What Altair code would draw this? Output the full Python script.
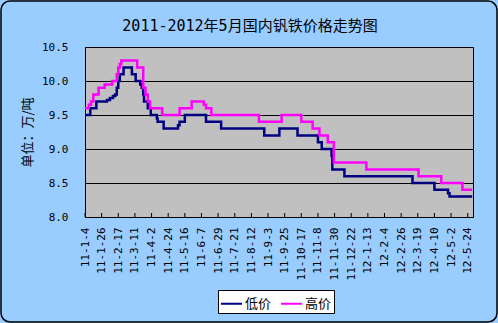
import json
import altair as alt
import pandas as pd

# ---------------- data ----------------
low_dates = ["2011-01-04", "2011-01-11", "2011-01-19", "2011-02-02", "2011-02-06",
             "2011-02-10", "2011-02-13", "2011-02-15", "2011-02-17", "2011-02-19",
             "2011-02-24", "2011-03-07", "2011-03-12", "2011-03-18", "2011-03-20",
             "2011-03-22", "2011-03-23", "2011-03-28", "2011-04-01", "2011-04-09",
             "2011-04-10", "2011-04-18", "2011-05-07", "2011-05-09", "2011-05-16",
             "2011-06-13", "2011-07-03", "2011-08-29", "2011-09-18", "2011-10-12",
             "2011-11-08", "2011-11-13", "2011-11-26", "2011-11-27", "2011-12-13",
             "2012-03-12", "2012-04-10", "2012-04-28", "2012-04-30", "2012-05-30"]
low_values = [9.5, 9.6, 9.7, 9.72, 9.75,
              9.78, 9.8, 9.9, 10.0, 10.1,
              10.2, 10.1, 10.0, 9.95, 9.9,
              9.8, 9.7, 9.6, 9.5, 9.45,
              9.4, 9.3, 9.35, 9.4, 9.5,
              9.4, 9.3, 9.2, 9.3, 9.2,
              9.1, 9.0, 8.9, 8.7, 8.6,
              8.5, 8.4, 8.35, 8.3, 8.3]

high_dates = ["2011-01-04", "2011-01-09", "2011-01-12", "2011-01-15", "2011-01-22",
              "2011-01-30", "2011-02-09", "2011-02-15", "2011-02-17", "2011-02-19",
              "2011-02-21", "2011-03-14", "2011-03-22", "2011-03-25", "2011-03-28",
              "2011-03-31", "2011-04-16", "2011-05-09", "2011-05-25", "2011-06-10",
              "2011-06-13", "2011-06-20", "2011-08-22", "2011-09-21", "2011-10-17",
              "2011-11-01", "2011-11-10", "2011-11-21", "2011-11-29", "2012-01-11",
              "2012-03-20", "2012-04-19", "2012-05-17", "2012-05-30"]
high_values = [9.6, 9.65, 9.7, 9.8, 9.9,
               9.95, 10.0, 10.1, 10.2, 10.25,
               10.3, 10.2, 9.9, 9.8, 9.7,
               9.6, 9.5, 9.6, 9.7, 9.65,
               9.6, 9.5, 9.4, 9.5, 9.4,
               9.3, 9.2, 9.1, 8.8, 8.7,
               8.6, 8.5, 8.4, 8.4]

series_names = ["低价", "高价"]
series_colors = ["#000080", "#FF00FF"]

tick_labels = ["11-1-4", "11-1-26", "11-2-17", "11-3-11", "11-4-2", "11-4-24",
               "11-5-16", "11-6-7", "11-6-29", "11-7-21", "11-8-12", "11-9-3",
               "11-9-25", "11-10-17", "11-11-8", "11-11-30", "11-12-22", "12-1-13",
               "12-2-4", "12-2-26", "12-3-19", "12-4-10", "12-5-2", "12-5-24"]
y_ticks = [8.0, 8.5, 9.0, 9.5, 10.0, 10.5]

title_text = "2011-2012年5月国内钒铁价格走势图"
y_title = "单位：万/吨"

# ---------------- build tables ----------------
origin = pd.Timestamp("2011-01-04")


def day_of(s):
    return int((pd.Timestamp(s) - origin).days)


def tick_day(lbl):
    y, m, d = lbl.split("-")
    return day_of(f"20{y}-{int(m):02d}-{int(d):02d}")


rows = []
for d, v in zip(low_dates, low_values):
    rows.append({"day": day_of(d), "price": v, "series": series_names[0]})
for d, v in zip(high_dates, high_values):
    rows.append({"day": day_of(d), "price": v, "series": series_names[1]})
df = pd.DataFrame(rows)

tick_days = [tick_day(t) for t in tick_labels]
ticks_df = pd.DataFrame({"day": tick_days})

W, H = 388, 170
x_domain = [0, 513]

label_expr = "%s[indexof(%s, datum.value)]" % (json.dumps(tick_labels), json.dumps(tick_days))

mono = "DejaVu Sans Mono"
cjk = "Noto Sans CJK SC"

x_enc = alt.X(
    "day:Q",
    scale=alt.Scale(domain=x_domain, nice=False, zero=False),
    axis=alt.Axis(
        values=tick_days, labelExpr=label_expr, labelAngle=-90,
        labelFont=mono, labelFontSize=11, labelColor="black",
        labelPadding=10, ticks=False, domain=False, grid=False,
        labelOverlap=False, labelFlush=False, labelBound=False, title=None,
    ),
)

lines = alt.Chart(df).mark_line(interpolate="step-after", strokeWidth=2.5).encode(
    x=x_enc,
    y=alt.Y(
        "price:Q",
        scale=alt.Scale(domain=[8.0, 10.5], nice=False, zero=False),
        axis=alt.Axis(
            values=y_ticks, format=".1f", labelFont=mono, labelFontSize=11,
            labelColor="black", labelPadding=17, ticks=False, domain=False,
            grid=True, gridColor="black", gridWidth=1, gridOpacity=1,
            title=y_title, titleFont=cjk, titleFontSize=13, titleFontWeight="normal",
            titleColor="black", titlePadding=7,
        ),
    ),
    color=alt.Color(
        "series:N",
        scale=alt.Scale(domain=series_names, range=series_colors),
        legend=alt.Legend(
            title=None, orient="none", legendX=133, legendY=243, direction="horizontal",
            symbolType="stroke", symbolSize=441, symbolStrokeWidth=2,
            labelFont=cjk, labelFontSize=13, labelColor="black", labelOffset=2,
            columnPadding=5, padding=2, fillColor="white", strokeColor="black",
        ),
    ),
)

inner_ticks = alt.Chart(ticks_df).mark_rule(color="black", strokeWidth=1).encode(
    x=x_enc,
    y=alt.value(H - 4),
    y2=alt.value(H),
)

frame = alt.Chart(alt.Data(values=[{"k": 1}])).mark_rect(
    fillOpacity=0, stroke="black", strokeWidth=1.5, cornerRadius=9
).encode(
    x=alt.value(-84), y=alt.value(-46), x2=alt.value(W + 24), y2=alt.value(H + 105)
)

chart = alt.layer(lines, inner_ticks, frame).properties(
    width=W, height=H,
    title=alt.TitleParams(
        text=title_text, font=f"{mono}, {cjk}", fontSize=15, fontWeight="normal",
        color="black", anchor="middle", frame="group", dx=-29, offset=-34,
    ),
    background="#99CCFF",
    padding={"left": 85, "top": 47, "right": 25, "bottom": 106},
    autosize=alt.AutoSizeParams(type="none"),
).configure_view(
    fill="#C0C0C0", stroke="black", strokeWidth=1
).configure_axisX(labelOverlap=False)

chart.save("out.html", embed_options={"renderer": "svg", "actions": False})
